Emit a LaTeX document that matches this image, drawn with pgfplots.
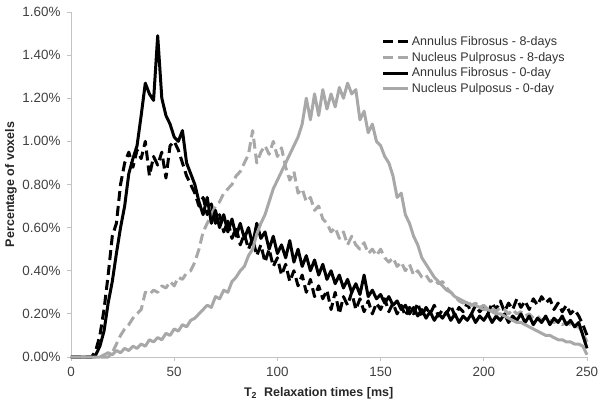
\documentclass[border=0pt]{standalone}
\usepackage{fontspec}
\setmainfont{Liberation Sans}
\usepackage{pgfplots}
\usepackage{pgfplotstable}
\pgfplotsset{compat=1.18}
\definecolor{lgrey}{RGB}{168,168,168}
\definecolor{axgrey}{RGB}{195,195,195}

\pgfplotstableread{
x y
0 0
4 0
8 0
10 0.00
12 0.03
14 0.10
16 0.22
18 0.38
20 0.56
22 0.62
24 0.80
26 0.90
28 0.95
30 0.88
32 0.96
34 0.92
36 1.00
38 0.84
40 0.93
42 0.89
44 0.95
46 0.83
48 0.98
50 1.00
52 0.96
54 0.90
56 0.84
58 0.80
60 0.76
62 0.70
64 0.74
66 0.66
68 0.71
70 0.62
72 0.66
74 0.58
76 0.63
78 0.55
80 0.60
82 0.52
84 0.57
86 0.50
88 0.55
90 0.47
92 0.52
94 0.44
96 0.50
98 0.42
100 0.46
102 0.38
104 0.43
106 0.35
108 0.40
110 0.33
112 0.38
114 0.30
116 0.36
118 0.28
120 0.33
122 0.27
124 0.31
126 0.22
128 0.30
130 0.20
132 0.28
134 0.24
136 0.30
138 0.22
140 0.27
142 0.21
144 0.26
146 0.20
148 0.25
150 0.22
152 0.27
154 0.21
156 0.25
158 0.20
160 0.24
162 0.19
164 0.23
166 0.20
168 0.25
170 0.19
172 0.23
174 0.20
176 0.24
178 0.19
180 0.22
182 0.20
184 0.24
186 0.19
188 0.23
190 0.21
192 0.25
194 0.20
196 0.24
198 0.21
200 0.23
202 0.20
204 0.25
206 0.22
208 0.26
210 0.21
212 0.25
214 0.22
216 0.27
218 0.23
220 0.26
222 0.22
224 0.27
226 0.24
228 0.28
230 0.25
232 0.27
234 0.22
236 0.25
238 0.21
240 0.24
242 0.20
244 0.22
246 0.19
248 0.15
250 0.10
}\afeight

\pgfplotstableread{
x y
0 0
4 0
8 0
10 0
12 0.01
14 0.05
16 0.12
18 0.25
20 0.35
22 0.48
24 0.60
26 0.70
28 0.85
30 0.92
32 0.98
34 1.12
36 1.27
38 1.22
40 1.19
42 1.49
44 1.20
46 1.12
48 1.08
50 1.02
52 1.00
54 1.05
56 0.90
58 0.85
60 0.80
62 0.72
64 0.66
66 0.74
68 0.62
70 0.68
72 0.60
74 0.66
76 0.58
78 0.64
80 0.56
82 0.62
84 0.55
86 0.60
88 0.52
90 0.62
92 0.55
94 0.58
96 0.50
98 0.56
100 0.48
102 0.52
104 0.46
106 0.54
108 0.44
110 0.50
112 0.42
114 0.47
116 0.40
118 0.45
120 0.38
122 0.43
124 0.36
126 0.40
128 0.34
130 0.38
132 0.32
134 0.36
136 0.30
138 0.34
140 0.29
142 0.38
144 0.28
146 0.31
148 0.27
150 0.29
152 0.25
154 0.28
156 0.24
158 0.26
160 0.22
162 0.24
164 0.20
166 0.23
168 0.19
170 0.22
172 0.18
174 0.21
176 0.17
178 0.20
180 0.18
182 0.21
184 0.17
186 0.20
188 0.16
190 0.19
192 0.17
194 0.20
196 0.16
198 0.19
200 0.17
202 0.20
204 0.16
206 0.19
208 0.17
210 0.20
212 0.16
214 0.19
216 0.17
218 0.20
220 0.16
222 0.19
224 0.15
226 0.18
228 0.16
230 0.19
232 0.15
234 0.18
236 0.16
238 0.19
240 0.15
242 0.17
244 0.14
246 0.16
248 0.10
250 0.04
}\afzero

\pgfplotstableread{
x y
0 0
10 0
18 0
20 0.02
22 0.06
24 0.10
26 0.13
28 0.15
30 0.18
32 0.20
34 0.22
36 0.30
38 0.29
40 0.31
42 0.30
44 0.33
46 0.32
48 0.35
50 0.33
52 0.37
54 0.36
56 0.39
58 0.40
60 0.44
62 0.50
64 0.58
66 0.62
68 0.66
70 0.70
72 0.72
74 0.76
76 0.78
78 0.80
80 0.84
82 0.86
84 0.90
86 0.94
88 1.05
90 0.90
92 0.95
94 0.98
96 0.94
98 1.00
100 0.93
102 0.97
104 0.88
106 0.82
108 0.86
110 0.76
112 0.78
114 0.72
116 0.74
118 0.68
120 0.70
122 0.64
124 0.62
126 0.58
128 0.60
130 0.55
132 0.58
134 0.52
136 0.56
138 0.52
140 0.50
142 0.53
144 0.48
146 0.50
148 0.47
150 0.50
152 0.46
154 0.44
156 0.46
158 0.42
160 0.44
162 0.40
164 0.43
166 0.38
168 0.40
170 0.37
172 0.38
174 0.35
176 0.36
178 0.34
180 0.35
182 0.32
184 0.30
186 0.28
188 0.26
190 0.25
192 0.26
194 0.24
196 0.25
198 0.23
200 0.24
202 0.22
204 0.23
206 0.21
208 0.23
210 0.22
212 0.20
214 0.22
216 0.20
218 0.21
220 0.19
222 0.20
224 0.18
226 0.19
228 0.17
230 0.18
232 0.17
234 0.16
236 0.17
238 0.15
240 0.16
242 0.15
244 0.14
246 0.14
248 0.11
250 0.07
}\npeight

\pgfplotstableread{
x y
0 0
10 0
14 0
16 0.01
18 0.02
20 0.01
22 0.03
24 0.02
26 0.04
28 0.03
30 0.05
32 0.04
34 0.06
36 0.05
38 0.08
40 0.07
42 0.09
44 0.08
46 0.11
48 0.10
50 0.13
52 0.12
54 0.15
56 0.14
58 0.17
60 0.18
62 0.20
64 0.22
66 0.24
68 0.23
70 0.28
72 0.27
74 0.31
76 0.30
78 0.35
80 0.37
82 0.40
84 0.42
86 0.47
88 0.50
90 0.57
92 0.62
94 0.66
96 0.72
98 0.78
100 0.82
102 0.86
104 0.90
106 0.94
108 0.98
110 1.02
112 1.08
114 1.20
116 1.10
118 1.22
120 1.12
122 1.24
124 1.15
126 1.22
128 1.16
130 1.25
132 1.20
134 1.27
136 1.22
138 1.24
140 1.10
142 1.14
144 1.04
146 1.08
148 1.00
150 0.98
152 0.93
154 0.90
156 0.84
158 0.74
160 0.76
162 0.66
164 0.62
166 0.56
168 0.52
170 0.46
172 0.43
174 0.40
176 0.37
178 0.35
180 0.33
182 0.31
184 0.30
186 0.28
188 0.27
190 0.26
192 0.25
194 0.24
196 0.24
198 0.23
200 0.22
202 0.22
204 0.21
206 0.20
208 0.20
210 0.19
212 0.18
214 0.17
216 0.16
218 0.16
220 0.15
222 0.14
224 0.13
226 0.12
228 0.11
230 0.10
232 0.10
234 0.09
236 0.08
238 0.08
240 0.07
242 0.07
244 0.06
246 0.06
248 0.05
250 0.01
}\npzero

\begin{document}
\begin{tikzpicture}
\begin{axis}[
  scale only axis,
  width=516pt, height=345pt,
  xmin=0, xmax=250, ymin=0, ymax=1.6,
  xtick={0,50,100,150,200,250},
  ytick={0,0.2,0.4,0.6,0.8,1.0,1.2,1.4,1.6},
  axis lines=left,
  axis line style={axgrey, line width=0.8pt, -},
  tick style={axgrey, line width=0.8pt},
  tick align=outside,
  major tick length=4pt,
  /pgf/number format/assume math mode=true,
  ticklabel style={font=\fontsize{13.4}{15}\selectfont, text=black!75},
  xticklabel style={yshift=-3pt},
  yticklabel style={xshift=-3pt},
  yticklabel={\pgfmathprintnumber[fixed,fixed zerofill,precision=2]{\tick}\%},
  xticklabel={\pgfmathprintnumber[fixed]{\tick}},
  xlabel={\textbf{T\textsubscript{2}\ \ Relaxation times [ms]}},
  ylabel={\textbf{Percentage of voxels}},
  label style={font=\fontsize{12.5}{15}\selectfont, text=black!85},
  xlabel style={at={(axis description cs:0.48,0)}, anchor=center, yshift=-36pt},
  ylabel style={at={(axis description cs:-0.1163,0.5)}, anchor=center},
  legend style={draw=none, fill=none, at={(0.602,0.935)}, anchor=north west,
    font=\fontsize{12.5}{15}\selectfont, text=black!80, row sep=1pt,
    inner sep=0pt, /tikz/every even column/.append style={column sep=1pt}},
  legend cell align=left,
  legend image code/.code={\draw[#1] (0pt,0pt) -- (25pt,0pt);},
  every axis plot/.append style={line width=3pt, line join=round},
  clip=false,
]
\addplot[black, dash pattern=on 10pt off 5pt] table[x=x,y=y] {\afeight};
\addlegendentry{Annulus Fibrosus - 8-days}
\addplot[lgrey, dash pattern=on 10pt off 5pt] table[x=x,y=y] {\npeight};
\addlegendentry{Nucleus Pulprosus - 8-days}
\addplot[black] table[x=x,y=y] {\afzero};
\addlegendentry{Annulus Fibrosus - 0-day}
\addplot[lgrey] table[x=x,y=y] {\npzero};
\addlegendentry{Nucleus Pulposus - 0-day}
\end{axis}
\pgfresetboundingbox
\path ([xshift=-71pt,yshift=-49pt]current axis.south west) rectangle ([xshift=14pt,yshift=12pt]current axis.north east);
\end{tikzpicture}
\end{document}
